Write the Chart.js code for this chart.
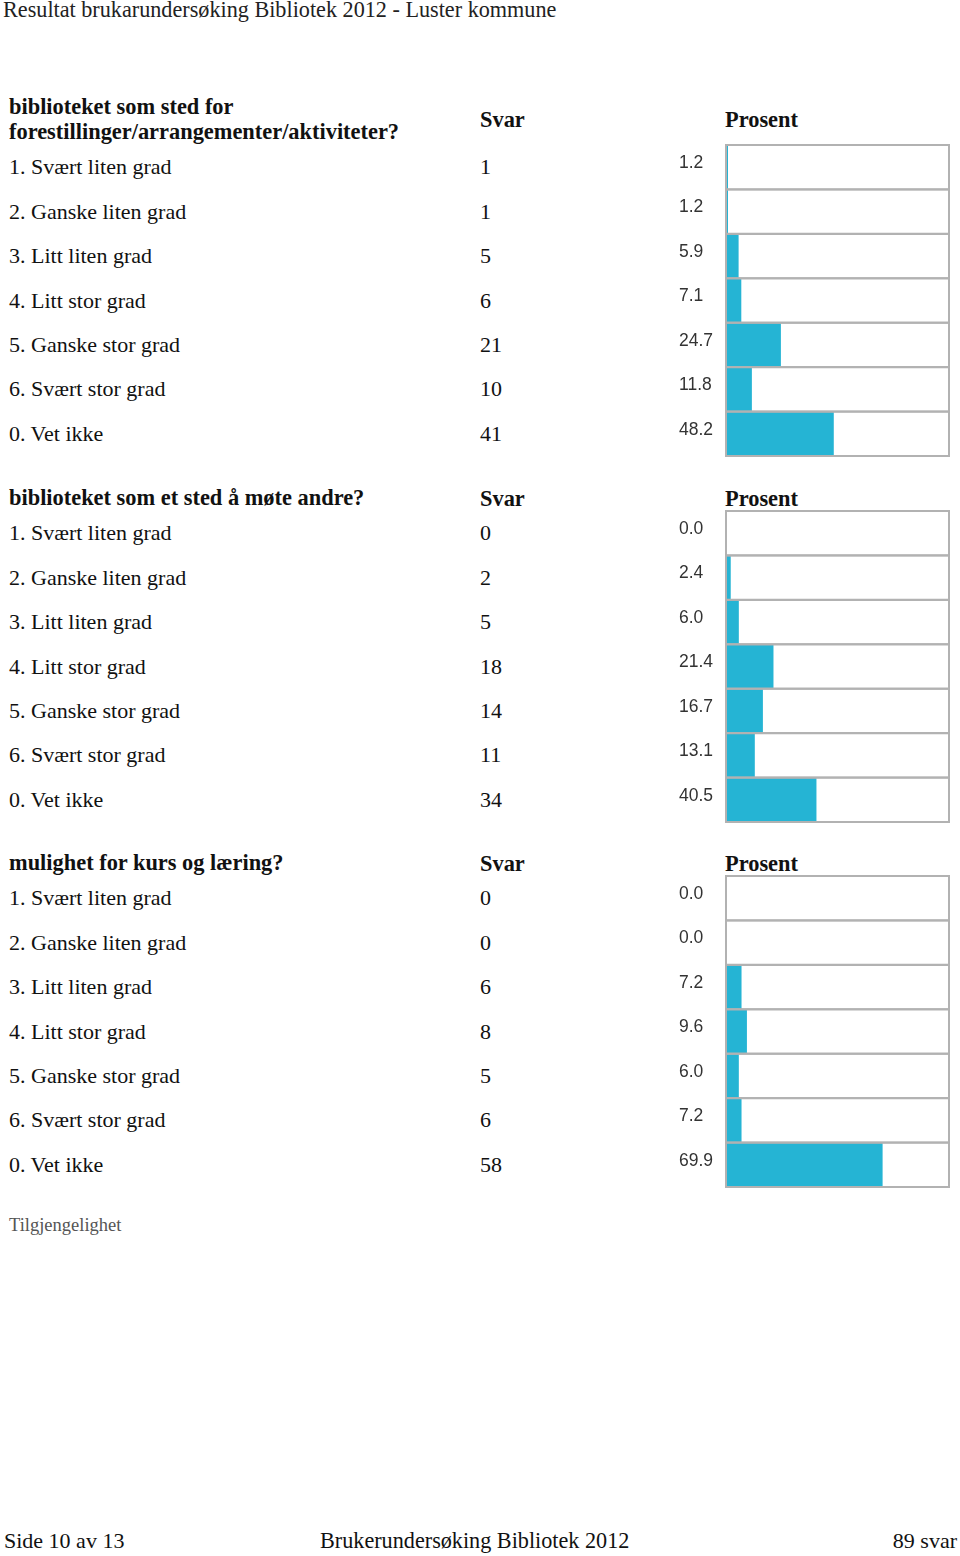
<!DOCTYPE html>
<html>
<head>
<meta charset="utf-8">
<title>Resultat brukarundersøking Bibliotek 2012</title>
<script src="https://cdn.jsdelivr.net/npm/chart.js@4.4.1/dist/chart.umd.min.js"></script>
<style>
    body {
        margin: 0;
        width: 960px;
        height: 1556px;
        position: relative;
        background: #fff;
        overflow: hidden;
        font-family: "Liberation Serif", "Times New Roman", serif;
        color: #111;
    }
    .t { position: absolute; white-space: nowrap; font-size: 22px; line-height: 26px; }
    .b { font-weight: bold; font-size: 22.4px; line-height: 26px; }
    .chart { position: absolute; left: 679px; }
</style>
</head>
<body>
<div class="t" style="left:3px; top:-3px; font-size:22.2px; color:#222;">Resultat brukarundersøking Bibliotek 2012 - Luster kommune</div>
<div id="page"></div>
<div class="t" style="left:9px; top:1212px; font-size:18.5px; color:#555;">Tilgjengelighet</div>
<div class="t" style="left:4px; top:1528px;">Side 10 av 13</div>
<div class="t" style="left:320px; top:1528px; font-size:22.2px;">Brukerundersøking Bibliotek 2012</div>
<div class="t" style="right:3px; top:1528px;">89 svar</div>

<script>
// Answer categories (same for every question)
const categories = [
    '1. Svært liten grad',
    '2. Ganske liten grad',
    '3. Litt liten grad',
    '4. Litt stor grad',
    '5. Ganske stor grad',
    '6. Svært stor grad',
    '0. Vet ikke'
];

// Questions
const questions = [
    ['biblioteket som sted for', 'forestillinger/arrangementer/aktiviteter?'],
    ['biblioteket som et sted å møte andre?'],
    ['mulighet for kurs og læring?']
];

// Number of answers
const svar1 = [1, 1, 5, 6, 21, 10, 41];
const svar2 = [0, 2, 5, 18, 14, 11, 34];
const svar3 = [0, 0, 6, 8, 5, 6, 58];

// Percentages
const prosent1 = [1.2, 1.2, 5.9, 7.1, 24.7, 11.8, 48.2];
const prosent2 = [0.0, 2.4, 6.0, 21.4, 16.7, 13.1, 40.5];
const prosent3 = [0.0, 0.0, 7.2, 9.6, 6.0, 7.2, 69.9];

const svar = [svar1, svar2, svar3];
const prosent = [prosent1, prosent2, prosent3];

// Layout of each block on the page
const boxTops = [145, 511, 876];
const boxHeight = 311;
const band = boxHeight / categories.length;

// Draws the gray frame around every category band
const framePlugin = {
    id: 'frames',
    afterDatasetsDraw(chart) {
        const { ctx, scales: { x, y } } = chart;
        const x0 = x.getPixelForValue(0);
        const x1 = x.getPixelForValue(100);
        const h = (y.bottom - y.top) / chart.data.labels.length;
        ctx.save();
        ctx.strokeStyle = '#b2b2b2';
        ctx.lineWidth = 2;
        chart.data.labels.forEach((_, i) => {
            const c = y.getPixelForValue(i);
            ctx.strokeRect(x0 + 1, c - h / 2, x1 - x0 - 2, h);
        });
        ctx.restore();
    }
};

const page = document.getElementById('page');

function addText(text, left, top, cls) {
    const d = document.createElement('div');
    d.className = 't' + (cls ? ' ' + cls : '');
    d.style.left = left + 'px';
    d.style.top = top + 'px';
    d.textContent = text;
    page.appendChild(d);
}

questions.forEach((q, s) => {
    const top = boxTops[s];

    // Header
    const lastCenter = top - 13;
    q.forEach((line, i) => {
        const cy = lastCenter - (q.length - 1 - i) * 25;
        addText(line, 9, cy - 13, 'b');
    });
    const midHead = lastCenter - (q.length - 1) * 25 / 2 + 0.5;
    addText('Svar', 480, midHead - 13, 'b');
    addText('Prosent', 725, midHead - 13, 'b');

    // Rows
    categories.forEach((c, i) => {
        const cy = top + band * (i + 0.5);
        addText(c, 9, cy - 13, '');
        addText(String(svar[s][i]), 480, cy - 13, '');
    });

    // Chart
    const canvas = document.createElement('canvas');
    canvas.className = 'chart';
    canvas.width = 273;
    canvas.height = boxHeight + 2;
    canvas.style.top = (top - 1) + 'px';
    page.appendChild(canvas);

    const values = prosent[s];
    new Chart(canvas.getContext('2d'), {
        type: 'bar',
        data: {
            labels: categories,
            datasets: [{
                data: values,
                backgroundColor: '#25b4d4',
                borderWidth: 0,
                barPercentage: 1,
                categoryPercentage: 1
            }]
        },
        options: {
            indexAxis: 'y',
            responsive: false,
            animation: false,
            layout: { padding: { top: 1, bottom: 1, right: 2 } },
            plugins: {
                legend: { display: false },
                tooltip: { enabled: false }
            },
            scales: {
                x: { display: false, min: 0, max: 100 },
                y: {
                    grid: { display: false },
                    border: { display: false },
                    afterFit: (scale) => {
                        scale.width = 46;
                        scale.paddingTop = 0;
                        scale.paddingBottom = 0;
                    },
                    ticks: {
                        callback: (v, i) => values[i].toFixed(1),
                        crossAlign: 'far',
                        padding: 0,
                        labelOffset: -4,
                        color: '#333',
                        font: { family: 'Liberation Sans', size: 17.5 }
                    }
                }
            }
        },
        plugins: [framePlugin]
    });
});
</script>
</body>
</html>
